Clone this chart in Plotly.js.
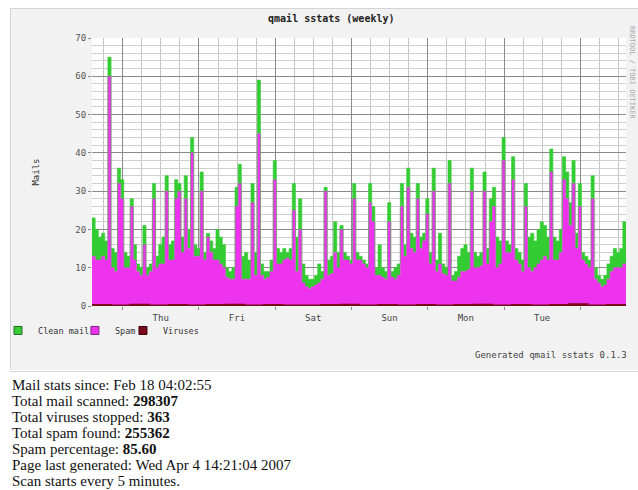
<!DOCTYPE html>
<html>
<head>
<meta charset="utf-8">
<script src="https://cdn.plot.ly/plotly-3.0.1.min.js"></script>
<style>
  html, body { margin: 0; padding: 0; background: #ffffff; width: 638px; height: 490px; overflow: hidden; }
  #panel { position: absolute; left: 10px; top: 8px; width: 628px; height: 362px; background: #f2f2f2; border-left: 1px solid #d4d4d4; border-top: 1px solid #d4d4d4; box-sizing: border-box; }
  #chart { position: absolute; left: 0; top: 0; width: 628px; height: 362px; }
  #stats { position: absolute; left: 12px; top: 377px; font-family: "Liberation Serif", "Times New Roman", serif; font-size: 15px; line-height: 16px; color: #111; }
  #stats b { font-weight: bold; }
  #sep { position: absolute; left: 10px; top: 371px; width: 628px; height: 1px; background: #d8d8d8; }
</style>
</head>
<body>
<div id="panel"><div id="chart"></div></div>
<div id="sep"></div>
<div id="stats">
  <div>Mail stats since: Feb 18 04:02:55</div>
  <div>Total mail scanned: <b>298307</b></div>
  <div>Total viruses stopped: <b>363</b></div>
  <div>Total spam found: <b>255362</b></div>
  <div>Spam percentage: <b>85.60</b></div>
  <div>Page last generated: Wed Apr 4 14:21:04 2007</div>
  <div>Scan starts every 5 minutes.</div>
</div>
<script>
// ---- data (hourly readings, starting Wed 14:21, hours measured from Wed 00:00) ----
const START_H = 14.35;
const dayTickHours = [24, 48, 72, 96, 120, 144, 168];
const dayTickLabels = ["Thu", "Fri", "Sat", "Sun", "Mon", "Tue", ""];

const spam = [
  13, 12, 12, 13, 12, 60, 10, 9, 32, 28, 10, 10, 26, 12, 9, 8, 16, 8, 9, 28,
  10, 11, 11, 30, 12, 12, 28, 30, 14, 28, 15, 40, 13, 13, 30, 12, 18, 14, 12, 12,
  11, 10, 7.5, 7, 7, 26, 32, 7, 7, 7, 27, 8, 45, 8, 7, 7.5, 9, 33, 11, 11,
  12, 12.5, 12, 25, 9, 20, 6, 5, 4.5, 5, 5.5, 6, 7, 30, 8, 8.5, 14, 10, 20, 12,
  12, 11, 28, 12, 12, 11, 10, 27, 22, 8, 8, 7.5, 7, 22, 7.5, 7, 8, 26, 13, 31,
  15, 14, 28, 15, 17, 24, 11, 30, 9, 11, 8.5, 8, 32, 6.5, 6.5, 7.5, 9, 9, 9.5, 30,
  10, 10, 10.5, 30, 11, 22, 26, 10, 11, 38, 14, 14, 33, 12, 11, 9, 26, 10, 9, 10,
  11, 12, 13, 12, 35, 12, 12, 14, 33, 28, 21, 32, 15, 26, 12, 11, 10, 28, 7, 6,
  5, 5.5, 7, 9, 10, 10, 10, 11, 11
];
const clean = [
  10, 8, 6, 6, 5, 5, 5, 5, 4, 5, 4, 3, 2, 4, 2, 2, 5, 2, 2, 4,
  3, 5, 7, 4, 4, 5, 5, 2, 4, 6, 5, 4, 3, 2, 5, 2, 1, 3, 3, 8,
  7, 6, 2.5, 2, 3, 5, 5, 6, 7, 5, 5, 6, 14, 3, 2, 1.5, 3, 5, 4, 3,
  3, 1.5, 3, 7, 9, 8, 5, 3, 2.5, 2, 2.5, 5, 2, 1, 4, 4.5, 8, 4, 1, 2,
  1, 1, 4, 2, 1, 1, 1, 5, 4, 2, 8, 2.5, 2, 5, 1.5, 3, 3, 6, 3, 5,
  4, 4, 4, 3, 2, 4, 3, 6, 3, 8, 2.5, 2, 6, 1.5, 2.5, 5.5, 6, 7, 4.5, 6,
  4, 3, 3.5, 5, 4, 6, 5, 8, 6, 6, 3, 2, 6, 3, 3, 3, 6, 8, 10, 7,
  9, 10, 8, 6, 6, 6, 5, 6, 6, 7, 6, 6, 4, 6, 2, 2, 2, 6, 3, 2,
  2, 2.5, 4, 4, 5, 4, 5, 11, 9
];
// viruses, read every 6 hours
const VIR_STEP_H = 6;
const viruses = [
  0.3, 0.2, 0.4, 0.2, 0.3, 0.2, 0.3, 0.4, 0.2, 0.3, 0.2, 0.2, 0.3, 0.4, 0.2,
  0.3, 0.2, 0.3, 0.2, 0.3, 0.4, 0.2, 0.3, 0.2, 0.3, 0.5, 0.2, 0.3, 0.3
];

const hours = spam.map((_, i) => START_H + i);
const virHours = viruses.map((_, i) => START_H + i * VIR_STEP_H);

const GREEN = "#33cc33", MAGENTA = "#ee33ee", DARKRED = "#7a0a1a";
const MONO = "DejaVu Sans Mono, monospace";

const traces = [
  { x: hours, y: spam, type: "scatter", mode: "lines", stackgroup: "mail",
    line: { shape: "hv", width: 0.6, color: MAGENTA }, fillcolor: MAGENTA,
    name: "Spam", showlegend: false, hoverinfo: "skip" },
  { x: hours, y: clean, type: "scatter", mode: "lines", stackgroup: "mail",
    line: { shape: "hv", width: 0.6, color: GREEN }, fillcolor: GREEN,
    name: "Clean mail", showlegend: false, hoverinfo: "skip" },
  { x: virHours, y: viruses, type: "scatter", mode: "lines", fill: "tozeroy",
    line: { shape: "hv", width: 1.5, color: DARKRED }, fillcolor: DARKRED,
    name: "Viruses", showlegend: false, hoverinfo: "skip" },
  // legend entries (one small legend each, so they can sit close together)
  { x: [null], y: [null], type: "scatter", mode: "markers", name: "Clean mail", legend: "legend",
    marker: { symbol: "square", size: 8, color: GREEN, line: { color: "#2a6a2a", width: 1 } } },
  { x: [null], y: [null], type: "scatter", mode: "markers", name: "Spam", legend: "legend2",
    marker: { symbol: "square", size: 8, color: MAGENTA, line: { color: "#7a2a7a", width: 1 } } },
  { x: [null], y: [null], type: "scatter", mode: "markers", name: "Viruses", legend: "legend3",
    marker: { symbol: "square", size: 8, color: DARKRED, line: { color: "#3a0008", width: 1 } } }
];

const legendBase = { orientation: "h", xref: "paper", yref: "container", xanchor: "left",
  y: 0.152, yanchor: "top", font: { family: MONO, size: 8.5, color: "#333" },
  bgcolor: "rgba(0,0,0,0)", itemwidth: 30 };

const layout = {
  width: 628, height: 362,
  margin: { l: 81, r: 13, t: 29, b: 65, autoexpand: false },
  paper_bgcolor: "rgba(0,0,0,0)",
  plot_bgcolor: "#ffffff",
  showlegend: true,
  title: { text: "<b>qmail sstats (weekly)</b>", x: 0.51, xanchor: "center", y: 0.975, yanchor: "middle",
           font: { family: MONO, size: 10, color: "#222" } },
  font: { family: MONO, size: 9, color: "#444" },
  xaxis: {
    range: [START_H, START_H + 168], automargin: false,
    tickmode: "array", tickvals: dayTickHours, ticktext: dayTickLabels,
    ticklabelshift: 38, ticks: "outside", ticklen: 3, tickcolor: "#888",
    showgrid: true, gridcolor: "#8a8a8a", gridwidth: 1,
    minor: { tickmode: "linear", tick0: 0, dtick: 6, showgrid: true, gridcolor: "#c4c4c4", gridwidth: 1 },
    zeroline: false, showline: false,
    tickfont: { family: MONO, size: 9, color: "#444" }
  },
  yaxis: {
    range: [0, 70], tickmode: "linear", tick0: 0, dtick: 10, automargin: false,
    ticks: "outside", ticklen: 3, tickcolor: "#888",
    showgrid: true, gridcolor: "#8a8a8a", gridwidth: 1,
    minor: { tickmode: "linear", tick0: 0, dtick: 2, showgrid: true, gridcolor: "#cfcfcf", gridwidth: 1 },
    zeroline: false, showline: false,
    tickfont: { family: MONO, size: 9, color: "#555" },
    title: { text: "Mails", standoff: 34, font: { family: MONO, size: 9, color: "#333" } }
  },
  legend: Object.assign({}, legendBase, { x: -0.176 }),
  legend2: Object.assign({}, legendBase, { x: -0.032 }),
  legend3: Object.assign({}, legendBase, { x: 0.058 }),
  annotations: [
    { text: "Generated qmail sstats 0.1.3", xref: "paper", yref: "paper", x: 1.005, y: -0.183,
      xanchor: "right", yanchor: "middle", showarrow: false, font: { family: MONO, size: 9, color: "#444" } },
    { text: "RRDTOOL / TOBI OETIKER", xref: "paper", yref: "paper", x: 1.011, y: 0.87,
      xanchor: "center", yanchor: "middle", textangle: 90, showarrow: false, font: { family: MONO, size: 7, color: "#aaa" } }
  ]
};

Plotly.newPlot("chart", traces, layout, { displayModeBar: false, staticPlot: true });
</script>
</body>
</html>
